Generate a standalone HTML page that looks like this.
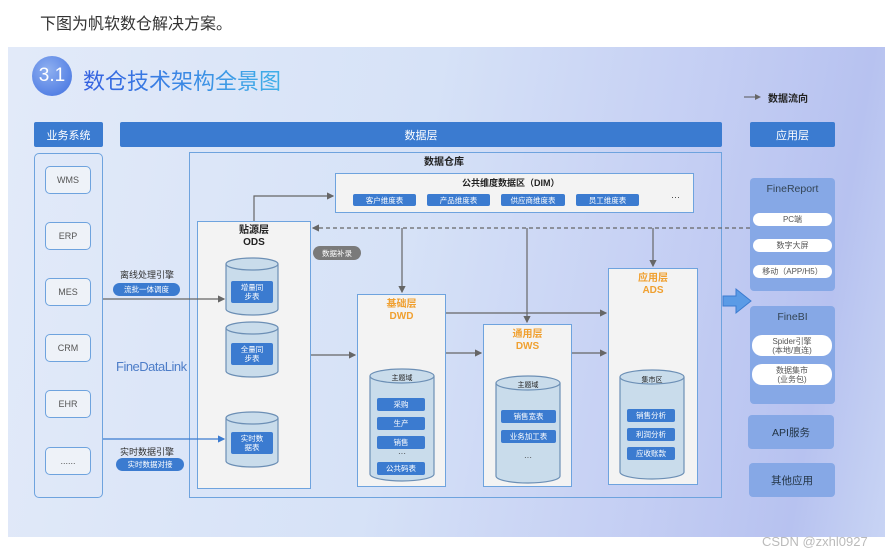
<!DOCTYPE html>
<html><head><meta charset="utf-8"><style>
*{margin:0;padding:0;box-sizing:border-box}
body{width:895px;height:557px;background:#fff;position:relative;overflow:hidden;font-family:"Liberation Sans","Noto Sans CJK SC",sans-serif}
.a{position:absolute}
.c{display:flex;align-items:center;justify-content:center;text-align:center}
.hdr{background:#3b7bd0;color:#fff;font-size:11px;border-radius:2px}
.sys{border:1.5px solid #6ea3de;background:#eef2f8;border-radius:5px;color:#555;font-size:9px}
.box{border:1.5px solid #6ea3de;background:#f3f3f3}
.chip{background:#3b7bd0;color:#fff;font-size:7.5px;border-radius:2px}
.ttl{font-weight:bold;font-size:10px;line-height:12px;color:#222}
.or{color:#f0a030;font-weight:bold;font-size:10px;line-height:12px}
.pill{background:#fff;border-radius:8px;color:#555;font-size:8px;line-height:9px}
.app{background:#86a8e6;border-radius:4px}
</style></head><body>
<div class="a" style="left:40px;top:10px;font-size:16px;color:#333">下图为帆软数仓解决方案。</div>
<div class="a" style="left:8px;top:47px;width:877px;height:490px;background:linear-gradient(100deg,#e2eaf9 0%,#d6e2f7 45%,#c3cdf3 75%,#b7c2f0 90%,#c8d4f4 100%)"></div>
<div class="a c" style="left:32px;top:56px;width:40px;height:40px;border-radius:50%;background:radial-gradient(circle at 40% 35%,#8fb0f0,#3f6fe0);color:#fff;font-size:19px">3.1</div>
<div class="a" style="left:83px;top:64px;font-size:22px;background:linear-gradient(90deg,#3560e0,#40b0e8);-webkit-background-clip:text;color:transparent">数仓技术架构全景图</div>
<svg class="a" style="left:0;top:0" width="895" height="557">
<defs><marker id="m" markerWidth="6" markerHeight="6" refX="5" refY="3" orient="auto"><path d="M0,0L6,3L0,6z" fill="#666"/></marker>
<marker id="mb" markerWidth="6" markerHeight="6" refX="5" refY="3" orient="auto"><path d="M0,0L6,3L0,6z" fill="#3b7bd0"/></marker></defs>
<line x1="744" y1="97" x2="760" y2="97" stroke="#555" marker-end="url(#m)"/>
</svg>
<div class="a" style="left:768px;top:90px;font-size:10px;font-weight:bold;color:#222">数据流向</div>
<div class="a c hdr" style="left:34px;top:122px;width:69px;height:25px">业务系统</div>
<div class="a c hdr" style="left:120px;top:122px;width:602px;height:25px">数据层</div>
<div class="a c hdr" style="left:750px;top:122px;width:85px;height:25px">应用层</div>
<div class="a" style="left:34px;top:153px;width:69px;height:345px;border:1.5px solid #6ea3de;border-radius:5px"></div>
<div class="a c sys" style="left:45px;top:166px;width:46px;height:28px">WMS</div>
<div class="a c sys" style="left:45px;top:222px;width:46px;height:28px">ERP</div>
<div class="a c sys" style="left:45px;top:278px;width:46px;height:28px">MES</div>
<div class="a c sys" style="left:45px;top:334px;width:46px;height:28px">CRM</div>
<div class="a c sys" style="left:45px;top:390px;width:46px;height:28px">EHR</div>
<div class="a c sys" style="left:45px;top:447px;width:46px;height:28px">......</div>
<div class="a" style="left:120px;top:268px;font-size:9px;color:#333">离线处理引擎</div>
<div class="a c chip" style="left:113px;top:283px;width:67px;height:13px;border-radius:7px">流批一体调度</div>
<div class="a" style="left:116px;top:359px;font-size:13px;color:#4d7dc8;letter-spacing:-0.5px">FineDataLink</div>
<div class="a" style="left:120px;top:445px;font-size:9px;color:#333">实时数据引擎</div>
<div class="a c chip" style="left:116px;top:458px;width:68px;height:13px;border-radius:7px">实时数据对接</div>
<div class="a" style="left:189px;top:152px;width:533px;height:346px;border:1.5px solid #6ea3de"></div>
<div class="a ttl" style="left:424px;top:157px">数据仓库</div>
<div class="a box" style="left:335px;top:173px;width:359px;height:40px"></div>
<div class="a ttl" style="left:462px;top:177px;font-size:9px">公共维度数据区（DIM）</div>
<div class="a c chip" style="left:353px;top:194px;width:63px;height:12px">客户维度表</div>
<div class="a c chip" style="left:427px;top:194px;width:63px;height:12px">产品维度表</div>
<div class="a c chip" style="left:501px;top:194px;width:64px;height:12px">供应商维度表</div>
<div class="a c chip" style="left:576px;top:194px;width:63px;height:12px">员工维度表</div>
<div class="a" style="left:671px;top:192px;font-size:9px;color:#333">···</div>
<div class="a box" style="left:197px;top:221px;width:114px;height:268px"></div>
<div class="a ttl c" style="left:197px;top:225px;width:114px">贴源层<br>ODS</div>
<div class="a c" style="left:313px;top:246px;width:48px;height:14px;background:#7a7a7a;color:#fff;font-size:7.5px;border-radius:7px">数据补录</div>
<div class="a box" style="left:357px;top:294px;width:89px;height:193px"></div>
<div class="a or c" style="left:357px;top:299px;width:89px">基础层<br>DWD</div>
<div class="a box" style="left:483px;top:324px;width:89px;height:163px"></div>
<div class="a or c" style="left:483px;top:329px;width:89px">通用层<br>DWS</div>
<div class="a box" style="left:608px;top:268px;width:90px;height:217px"></div>
<div class="a or c" style="left:608px;top:273px;width:90px">应用层<br>ADS</div>
<svg class="a" style="left:0;top:0" width="895" height="557">
<g fill="#c9dceb" stroke="#6c8fb5" stroke-width="1.2">
<path d="M226,264 v45 a26,6 0 0 0 52,0 v-45"/><ellipse cx="252" cy="264" rx="26" ry="6"/>
<path d="M226,328 v43 a26,6 0 0 0 52,0 v-43"/><ellipse cx="252" cy="328" rx="26" ry="6"/>
<path d="M226,418 v43 a26,6 0 0 0 52,0 v-43"/><ellipse cx="252" cy="418" rx="26" ry="6"/>
<path d="M370,376 v98 a32,7 0 0 0 64,0 v-98"/><ellipse cx="402" cy="376" rx="32" ry="7"/>
<path d="M496,383 v93 a32,7 0 0 0 64,0 v-93"/><ellipse cx="528" cy="383" rx="32" ry="7"/>
<path d="M620,377 v95 a32,7 0 0 0 64,0 v-95"/><ellipse cx="652" cy="377" rx="32" ry="7"/>
</g>
<g stroke="#666" stroke-width="1.2" fill="none">
<path d="M254,221 V196 H333" marker-end="url(#m)"/>
<line x1="750" y1="228" x2="313" y2="228" stroke-dasharray="4,3" marker-end="url(#m)"/>
<line x1="402" y1="228" x2="402" y2="292" marker-end="url(#m)"/>
<line x1="527" y1="228" x2="527" y2="322" marker-end="url(#m)"/>
<line x1="653" y1="228" x2="653" y2="266" marker-end="url(#m)"/>
<line x1="311" y1="355" x2="355" y2="355" marker-end="url(#m)"/>
<line x1="446" y1="353" x2="481" y2="353" marker-end="url(#m)"/>
<line x1="446" y1="313" x2="606" y2="313" marker-end="url(#m)"/>
<line x1="572" y1="353" x2="606" y2="353" marker-end="url(#m)"/>
<line x1="103" y1="299" x2="224" y2="299" marker-end="url(#m)"/>
</g>
<line x1="103" y1="439" x2="224" y2="439" stroke="#3b7bd0" stroke-width="1.2" marker-end="url(#mb)"/>
<path d="M723,296 h13 v-7 l15,12 l-15,12 v-7 h-13z" fill="#5b9be6" stroke="#3b7bd0"/>
</svg>
<div class="a c chip" style="left:231px;top:281px;width:42px;height:22px;line-height:9px">增量同<br>步表</div>
<div class="a c chip" style="left:231px;top:343px;width:42px;height:22px;line-height:9px">全量同<br>步表</div>
<div class="a c chip" style="left:231px;top:432px;width:42px;height:22px;line-height:9px">实时数<br>据表</div>
<div class="a c" style="left:370px;top:373px;width:64px;font-size:7px;color:#222">主题域</div>
<div class="a c chip" style="left:377px;top:398px;width:48px;height:13px">采购</div>
<div class="a c chip" style="left:377px;top:417px;width:48px;height:13px">生产</div>
<div class="a c chip" style="left:377px;top:436px;width:48px;height:13px">销售</div>
<div class="a c" style="left:370px;top:449px;width:64px;font-size:8px;color:#333">···</div>
<div class="a c chip" style="left:377px;top:462px;width:48px;height:13px">公共码表</div>
<div class="a c" style="left:496px;top:380px;width:64px;font-size:7px;color:#222">主题域</div>
<div class="a c chip" style="left:501px;top:410px;width:55px;height:13px">销售宽表</div>
<div class="a c chip" style="left:501px;top:430px;width:55px;height:13px">业务加工表</div>
<div class="a c" style="left:496px;top:453px;width:64px;font-size:8px;color:#333">···</div>
<div class="a c" style="left:620px;top:375px;width:64px;font-size:7px;color:#222">集市区</div>
<div class="a c chip" style="left:627px;top:409px;width:48px;height:13px">销售分析</div>
<div class="a c chip" style="left:627px;top:428px;width:48px;height:13px">利润分析</div>
<div class="a c chip" style="left:627px;top:447px;width:48px;height:13px">应收账款</div>
<div class="a app" style="left:750px;top:178px;width:85px;height:113px"></div>
<div class="a c" style="left:750px;top:183px;width:85px;font-size:10.5px;color:#345">FineReport</div>
<div class="a c pill" style="left:753px;top:213px;width:79px;height:13px">PC端</div>
<div class="a c pill" style="left:753px;top:239px;width:79px;height:13px">数字大屏</div>
<div class="a c pill" style="left:753px;top:265px;width:79px;height:13px">移动（APP/H5）</div>
<div class="a app" style="left:750px;top:306px;width:85px;height:98px"></div>
<div class="a c" style="left:750px;top:311px;width:85px;font-size:10.5px;color:#345">FineBI</div>
<div class="a c pill" style="left:752px;top:335px;width:80px;height:21px;border-radius:10px">Spider引擎<br>(本地/直连)</div>
<div class="a c pill" style="left:752px;top:364px;width:80px;height:21px;border-radius:10px">数据集市<br>(业务包)</div>
<div class="a app c" style="left:748px;top:415px;width:86px;height:34px;font-size:10.5px;color:#234">API服务</div>
<div class="a app c" style="left:749px;top:463px;width:86px;height:34px;font-size:10.5px;color:#234">其他应用</div>
<div class="a" style="left:762px;top:534px;font-size:13px;color:#bbb">CSDN @zxhl0927</div>
</body></html>
